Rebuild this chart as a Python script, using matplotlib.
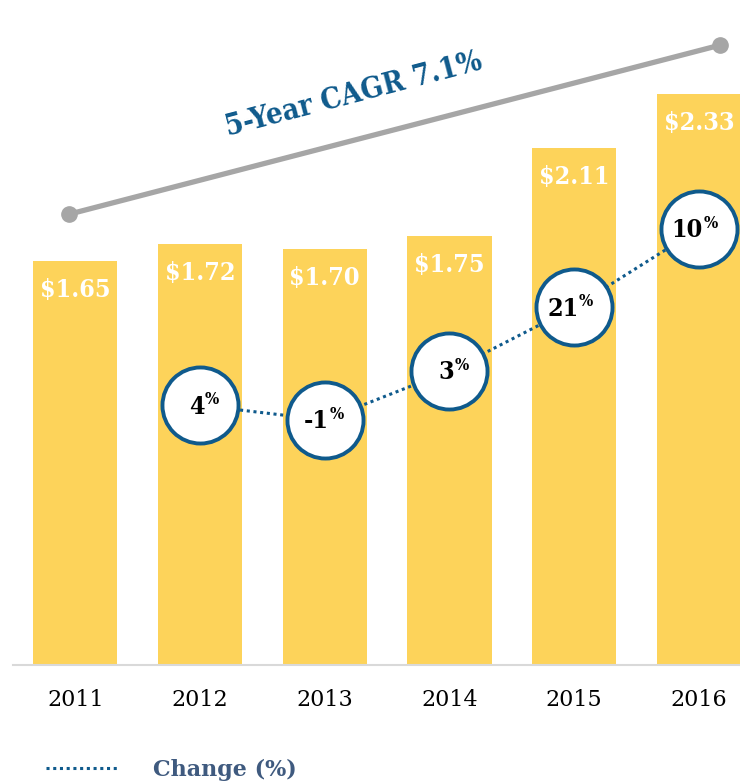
import matplotlib
matplotlib.use("Agg")
import matplotlib.pyplot as plt
from matplotlib.lines import Line2D
import numpy as np

years = ["2011", "2012", "2013", "2014", "2015", "2016"]
values = [1.65, 1.72, 1.70, 1.75, 2.11, 2.33]
value_labels = ["$1.65", "$1.72", "$1.70", "$1.75", "$2.11", "$2.33"]
change_years = ["2012", "2013", "2014", "2015", "2016"]
change_labels = ["4", "-1", "3", "21", "10"]
# vertical placement of the change bubbles (in bar-value units)
change_levels = [1.06, 1.00, 1.20, 1.46, 1.78]
cagr_label = "5-Year CAGR 7.1%"
cagr_levels = [1.84, 2.53]

BAR = "#FDD35A"
BLUE = "#0F5A8C"
GREY = "#A6A6A6"
FONT = "DejaVu Serif"

fig = plt.figure(figsize=(7.4, 7.83), dpi=100)
ax = fig.add_axes([13/740, 118/783, 1 - 13/740, (665-20)/783])
x = np.arange(len(years))
ax.bar(x, values, width=0.675, color=BAR, zorder=1)
ax.set_xlim(-0.5, 5.33)
ax.set_ylim(0, (665-20)/245)

for xi, v, lab in zip(x, values, value_labels):
    ax.annotate(lab, (xi, v), xytext=(0, -21), textcoords="offset points",
                ha="center", va="center", color="white", fontsize=18,
                fontweight="bold", family=FONT, fontstretch="condensed", zorder=3)

cx = [years.index(y) for y in change_years]
line, = ax.plot(cx, change_levels, linestyle=(0, (1, 1.2)), color=BLUE,
                lw=2.2, zorder=2)
ax.scatter(cx, change_levels, s=3000, facecolor="white", edgecolor=BLUE,
           linewidth=2.8, zorder=4)
for xi, lv, lab in zip(cx, change_levels, change_labels):
    ax.annotate(lab, (xi, lv), xytext=(3, -1), textcoords="offset points",
                ha="right", va="center", fontsize=18, fontweight="bold",
                family=FONT, fontstretch="condensed", color="black", zorder=5)
    ax.annotate("%", (xi, lv), xytext=(3.5, 4), textcoords="offset points",
                ha="left", va="center", fontsize=12, fontweight="bold",
                family=FONT, fontstretch="condensed", color="black", zorder=5)

# CAGR line
cagr_x = [x[0] - 0.05, x[-1] + 0.17]
ax.plot(cagr_x, cagr_levels, color=GREY, lw=3.8, marker="o", markersize=11,
        solid_capstyle="round", zorder=2)
ax.text(np.mean(cagr_x) - 0.33, np.mean(cagr_levels) + 0.145, cagr_label,
        rotation=14.7, ha="center", va="center", fontsize=21,
        fontweight="bold", color=BLUE, family=FONT, fontstretch="condensed",
        rotation_mode="anchor")

ax.set_xticks(x)
ax.set_xticklabels(years, family=FONT, fontsize=16)
ax.tick_params(axis="x", length=0, pad=17)
ax.set_yticks([])
for s in ["top", "right", "left"]:
    ax.spines[s].set_visible(False)
ax.spines["bottom"].set_color("#D9D9D9")
ax.spines["bottom"].set_linewidth(1.5)

leg = fig.legend(handles=[Line2D([], [], linestyle=(0, (1, 1.2)), color=BLUE, lw=2.2)],
                 labels=["Change (%)"], loc="center left",
                 bbox_to_anchor=(0.035, 13/783), frameon=False,
                 handlelength=3.3, handletextpad=1.5,
                 prop={"family": FONT, "weight": "bold", "size": 16})
for t in leg.get_texts():
    t.set_color("#3F5A7F")

fig.savefig("out.png", dpi=100)
